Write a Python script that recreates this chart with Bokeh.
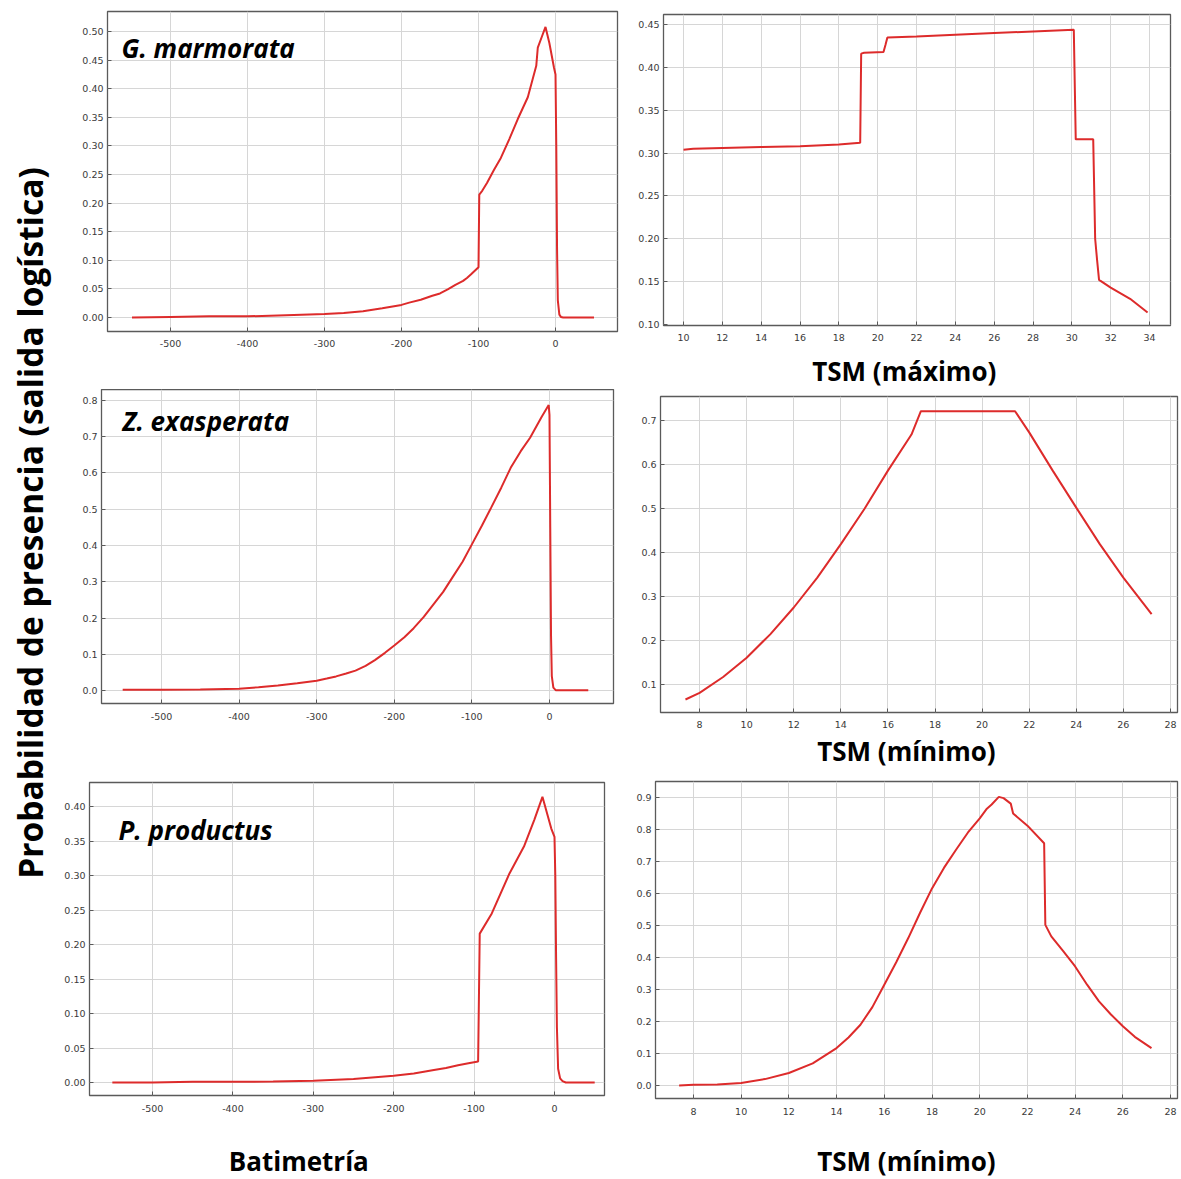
import math
from bokeh.plotting import figure
from bokeh.layouts import row, column
from bokeh.models import Range1d, FixedTicker, NumeralTickFormatter, Label
from bokeh.embed import file_html
from bokeh.resources import INLINE

# ---------------- data ----------------
bat_ticks = [-500, -400, -300, -200, -100, 0]
tsm_max_ticks = [10, 12, 14, 16, 18, 20, 22, 24, 26, 28, 30, 32, 34]
tsm_min_ticks = [8, 10, 12, 14, 16, 18, 20, 22, 24, 26, 28]

gm_y_ticks = [0.00, 0.05, 0.10, 0.15, 0.20, 0.25, 0.30, 0.35, 0.40, 0.45, 0.50]
gm_tsm_y_ticks = [0.10, 0.15, 0.20, 0.25, 0.30, 0.35, 0.40, 0.45]
ze_y_ticks = [0.0, 0.1, 0.2, 0.3, 0.4, 0.5, 0.6, 0.7, 0.8]
ze_tsm_y_ticks = [0.1, 0.2, 0.3, 0.4, 0.5, 0.6, 0.7]
pp_y_ticks = [0.00, 0.05, 0.10, 0.15, 0.20, 0.25, 0.30, 0.35, 0.40]
pp_tsm_y_ticks = [0.0, 0.1, 0.2, 0.3, 0.4, 0.5, 0.6, 0.7, 0.8, 0.9]

species = ["G. marmorata", "Z. exasperata", "P. productus"]
y_title = "Probabilidad de presencia (salida logística)"
x_titles = ["TSM (máximo)", "TSM (mínimo)", "Batimetría", "TSM (mínimo)"]

# G. marmorata - Batimetría
gm_bat_x = [-550, -500, -450, -400, -350, -300, -275, -250, -225, -200, -190, -175, -160, -150,
            -140, -130, -120, -115, -110, -100,
            -99, -95, -89, -80, -71, -60, -49, -36, -25, -23, -18, -13, -8, -2, 0,
            1, 2, 3, 5, 7, 10, 50]
gm_bat_y = [0.000, 0.001, 0.002, 0.002, 0.004, 0.006, 0.008, 0.011, 0.016, 0.022, 0.026, 0.031,
            0.038, 0.042, 0.049, 0.057, 0.064, 0.069, 0.075, 0.088,
            0.215, 0.222, 0.235, 0.258, 0.279, 0.312, 0.347, 0.385, 0.440, 0.472, 0.490, 0.508,
            0.480, 0.437, 0.425, 0.300, 0.120, 0.030, 0.005, 0.001, 0.0, 0.0]

# G. marmorata - TSM (máximo)
gm_tsm_x = [10.0, 10.5, 12, 14, 16, 18, 19.1, 19.15, 19.3, 20.3, 20.4, 20.5, 22, 24, 26, 28,
            30.1, 30.2, 30.3, 31.1, 31.2, 31.3, 31.4, 32, 33, 33.9]
gm_tsm_y = [0.304, 0.305, 0.306, 0.307, 0.308, 0.310, 0.312, 0.416, 0.417, 0.418, 0.426, 0.435,
            0.436, 0.438, 0.440, 0.442, 0.444, 0.316, 0.316, 0.316, 0.200, 0.175, 0.152, 0.143,
            0.130, 0.114]

# Z. exasperata - Batimetría
ze_bat_x = [-550, -500, -450, -400, -375, -350, -325, -300, -287, -275, -262, -250, -237, -225,
            -212, -200, -187, -175, -162, -150, -137, -125, -112, -100, -87, -75, -62, -50,
            -37, -25, -10, -1, 0, 1, 2, 3, 5, 8, 50]
ze_bat_y = [0.002, 0.002, 0.003, 0.005, 0.009, 0.014, 0.020, 0.027, 0.033, 0.039, 0.047, 0.055,
            0.068, 0.084, 0.104, 0.124, 0.147, 0.172, 0.203, 0.236, 0.272, 0.312, 0.355, 0.403,
            0.455, 0.505, 0.560, 0.614, 0.660, 0.697, 0.755, 0.787, 0.760, 0.450, 0.150, 0.040,
            0.008, 0.001, 0.001]

# Z. exasperata - TSM (mínimo)
ze_tsm_x = [7.4, 8, 9, 10, 11, 12, 13, 14, 15, 16, 17, 17.4, 21.4, 22, 23, 24, 25, 26, 27.2]
ze_tsm_y = [0.066, 0.081, 0.117, 0.161, 0.214, 0.275, 0.343, 0.419, 0.499, 0.586, 0.668, 0.721,
            0.721, 0.673, 0.586, 0.502, 0.419, 0.343, 0.260]

# P. productus - Batimetría
pp_bat_x = [-550, -500, -450, -400, -350, -300, -250, -200, -175, -150, -135, -120, -107, -95,
            -93, -78, -56, -38, -25, -15, -4, 0, 1, 2, 3, 4.5, 7, 10, 14, 50]
pp_bat_y = [0.0, 0.0, 0.001, 0.001, 0.0015, 0.0024, 0.005, 0.0097, 0.013, 0.018, 0.021, 0.025,
            0.028, 0.0305, 0.2158, 0.245, 0.303, 0.342, 0.381, 0.414, 0.368, 0.356, 0.300,
            0.180, 0.080, 0.020, 0.006, 0.002, 0.0, 0.0]

# P. productus - TSM (mínimo)
pp_tsm_x = [7.4, 8, 9, 10, 11, 12, 13, 14, 14.5, 15, 15.5, 16, 16.5, 17, 17.5, 18, 18.5, 19,
            19.5, 20, 20.3, 20.5, 20.8, 21.0, 21.3, 21.4, 22, 22.7, 22.75, 23, 23.5, 24, 24.5,
            25, 25.5, 26, 26.5, 27.2]
pp_tsm_y = [0.0, 0.002, 0.003, 0.008, 0.020, 0.039, 0.069, 0.117, 0.150, 0.190, 0.245, 0.315,
            0.385, 0.460, 0.540, 0.616, 0.680, 0.736, 0.790, 0.835, 0.865, 0.878, 0.902, 0.898,
            0.881, 0.850, 0.812, 0.757, 0.502, 0.466, 0.420, 0.372, 0.315, 0.263, 0.222, 0.185,
            0.152, 0.117]

# ---------------- style ----------------
RED = "#dd2b2b"
GRID = "#d6d6d6"
FRAME = "#5a5a5a"
TICKFONT = "DejaVu Sans"
BIGFONT = "Open Sans"


def panel(w, h, xr, yr, borders, xs, ys, xticks, yticks, yfmt, xstand,
          sp=None, sp_pos=None):
    left, right, top, bottom = borders
    p = figure(width=w, height=h, x_range=Range1d(*xr), y_range=Range1d(*yr),
               min_border_left=left, min_border_right=right,
               min_border_top=top, min_border_bottom=bottom,
               toolbar_location=None, output_backend="svg")
    p.background_fill_color = "white"
    p.border_fill_color = "white"
    p.outline_line_color = FRAME
    p.outline_line_width = 1.3

    p.xaxis.ticker = FixedTicker(ticks=xticks)
    p.yaxis.ticker = FixedTicker(ticks=yticks)
    p.xgrid.ticker = FixedTicker(ticks=xticks)
    p.ygrid.ticker = FixedTicker(ticks=yticks)
    p.xaxis.formatter = NumeralTickFormatter(format="0")
    p.yaxis.formatter = NumeralTickFormatter(format=yfmt)
    for ax in (p.xaxis[0], p.yaxis[0]):
        ax.axis_line_color = None
        ax.major_tick_in = 4
        ax.major_tick_out = 0
        ax.major_tick_line_color = FRAME
        ax.minor_tick_line_color = None
        ax.major_label_text_font = TICKFONT
        ax.major_label_text_font_size = "9.5px"
        ax.major_label_text_color = "#3a3a3a"
    p.xaxis.major_label_standoff = xstand
    p.yaxis.major_label_standoff = 4
    p.grid.grid_line_color = GRID
    p.grid.grid_line_width = 1

    p.line(xs, ys, line_color=RED, line_width=2)

    if sp:
        p.add_layout(Label(x=sp_pos[0], y=sp_pos[1], x_units="screen", y_units="screen",
                           text=sp, text_font=BIGFONT, text_font_size="26px",
                           text_font_style="bold italic", text_color="black",
                           text_align="left", text_baseline="middle"))
    return p


def title_box(w, h, text, lx, cy):
    # lx is measured from the left edge of the frame of the panel above
    # (Bokeh aligns the frames of the plots stacked in a column)
    t = figure(width=w, height=h, x_range=Range1d(0, 1), y_range=Range1d(0, 1),
               min_border=0, toolbar_location=None, output_backend="svg",
               x_axis_location=None, y_axis_location=None)
    t.grid.visible = False
    t.outline_line_color = None
    t.add_layout(Label(x=lx, y=cy, x_units="screen", y_units="screen", text=text,
                       text_font=BIGFONT, text_font_size="26px", text_font_style="bold",
                       text_color="black", text_align="left", text_baseline="middle"))
    return t


X0 = 56          # left edge of the panels column
LW = 620 - X0    # left panel width
RW = 560         # right panel width

# row 1 (0..389)
p1 = panel(LW, 389, (-581.8, 80.5), (-0.0245, 0.535), (51, 3, 11, 58),
           gm_bat_x, gm_bat_y, bat_ticks, gm_y_ticks, "0.00", 8,
           sp=species[0], sp_pos=(14, 283.5))
p2 = panel(RW, 348, (8.97, 35.08), (0.0988, 0.4617), (43, 10, 14, 23),
           gm_tsm_x, gm_tsm_y, tsm_max_ticks, gm_tsm_y_ticks, "0.00", 8)
l2 = title_box(RW, 41, x_titles[0], 811.7 - 663, 19)

# row 2 (389..770)
p3 = panel(LW, 381, (-577.3, 82.5), (-0.0357, 0.830), (45, 7, 0, 67),
           ze_bat_x, ze_bat_y, bat_ticks, ze_y_ticks, "0.0", 9,
           sp=species[1], sp_pos=(21, 283))
p4 = panel(RW, 342, (6.34, 28.3), (0.0364, 0.7545), (40, 3, 7, 19),
           ze_tsm_x, ze_tsm_y, tsm_min_ticks, ze_tsm_y_ticks, "0.0", 8)
l4 = title_box(RW, 39, x_titles[1], 816.7 - 660, 20)

# row 3 (770..1179)
p5 = panel(LW, 352, (-578.4, 62.2), (-0.0188, 0.4348), (33, 16, 12, 27),
           pp_bat_x, pp_bat_y, bat_ticks, pp_y_ticks, "0.00", 9,
           sp=species[2], sp_pos=(29, 266))
l5 = title_box(LW, 57, x_titles[2], 228.3 - 89, 19)
p6 = panel(RW, 356, (6.41, 28.29), (-0.0406, 0.95), (35, 3, 11, 28),
           pp_tsm_x, pp_tsm_y, tsm_min_ticks, pp_tsm_y_ticks, "0.0", 9)
l6 = title_box(RW, 53, x_titles[3], 816.7 - 655, 19)

side = figure(width=X0, height=1179, x_range=Range1d(0, 1), y_range=Range1d(0, 1),
              min_border=0, toolbar_location=None, output_backend="svg",
              x_axis_location=None, y_axis_location=None)
side.grid.visible = False
side.outline_line_color = None
side.add_layout(Label(x=29, y=1179 - 522.5, x_units="screen", y_units="screen",
                      text=y_title, text_font=BIGFONT, text_font_size="33.5px",
                      text_font_style="bold", text_color="black", angle=math.pi / 2,
                      text_align="center", text_baseline="middle"))

layout = row(side, column(row(p1, column(p2, l2)),
                          row(p3, column(p4, l4)),
                          row(column(p5, l5), column(p6, l6))))

open("out.html", "w").write(file_html(layout, INLINE))
